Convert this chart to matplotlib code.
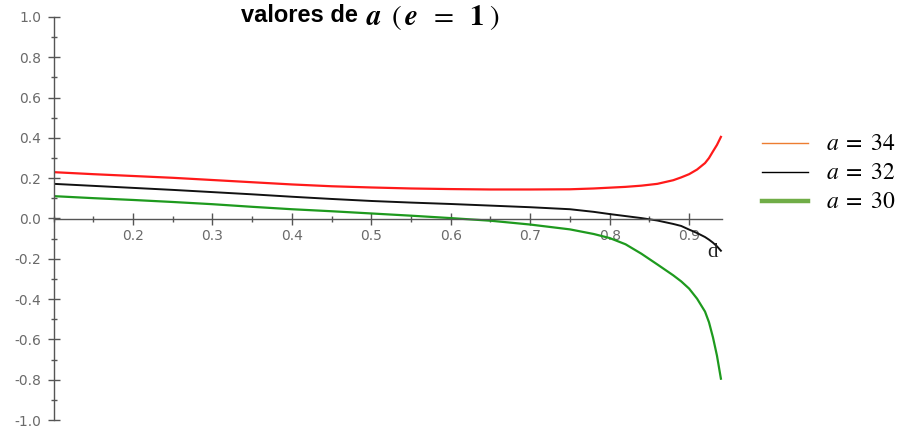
import numpy as np
import matplotlib
matplotlib.use("Agg")
import matplotlib.pyplot as plt
from matplotlib.lines import Line2D
from matplotlib.ticker import MultipleLocator, FormatStrFormatter

plt.rcParams['mathtext.fontset'] = 'stix'
plt.rcParams['axes.unicode_minus'] = False

# values of the expression vs d, for three values of a
d_vals = [0.10, 0.15, 0.20, 0.25, 0.30, 0.35, 0.40, 0.45, 0.50, 0.55, 0.60, 0.65, 0.70,
          0.75, 0.78, 0.80, 0.82, 0.84, 0.86, 0.88, 0.89, 0.90, 0.91, 0.92, 0.925, 0.93, 0.935, 0.94]
y_a34 = [0.230, 0.220, 0.211, 0.202, 0.191, 0.180, 0.169, 0.160, 0.154, 0.149, 0.146, 0.144, 0.144,
         0.145, 0.149, 0.153, 0.157, 0.163, 0.172, 0.190, 0.204, 0.220, 0.243, 0.275, 0.300, 0.333, 0.365, 0.405]
y_a32 = [0.172, 0.162, 0.152, 0.142, 0.131, 0.120, 0.108, 0.097, 0.087, 0.079, 0.072, 0.064, 0.056,
         0.046, 0.033, 0.022, 0.012, 0.002, -0.010, -0.027, -0.037, -0.055, -0.072, -0.092, -0.105, -0.120, -0.138, -0.160]
y_a30 = [0.111, 0.101, 0.092, 0.082, 0.071, 0.058, 0.046, 0.036, 0.025, 0.014, 0.002, -0.011, -0.030,
         -0.054, -0.077, -0.097, -0.128, -0.175, -0.228, -0.282, -0.312, -0.348, -0.398, -0.462, -0.515, -0.590, -0.680, -0.795]
legend_labels = [r"$a\;=\;34$", r"$a\;=\;32$", r"$a\;=\;30$"]

fig = plt.figure(figsize=(9.02, 4.30), dpi=100)
ax = fig.add_axes([53.5/902, 10/430, 669/902, 403/430])

ax.plot(d_vals, y_a34, color="#ff1a1a", lw=1.6)
ax.plot(d_vals, y_a32, color="#111111", lw=1.4)
ax.plot(d_vals, y_a30, color="#1e9a1e", lw=1.6)

ax.set_xlim(0.1, 0.942)
ax.set_ylim(-1.0, 1.0)
ax.spines['top'].set_visible(False)
ax.spines['right'].set_visible(False)
ax.spines['bottom'].set_position(('data', 0))
for s in ('left', 'bottom'):
    ax.spines[s].set_color("#555555")
    ax.spines[s].set_linewidth(1.0)

ax.xaxis.set_minor_locator(MultipleLocator(0.05))
ax.yaxis.set_major_locator(MultipleLocator(0.2))
ax.yaxis.set_minor_locator(MultipleLocator(0.1))
# no label at d = 0.1 (the vertical axis sits there)
ax.set_xticks([0.2, 0.3, 0.4, 0.5, 0.6, 0.7, 0.8, 0.9])
ax.xaxis.set_major_formatter(FormatStrFormatter("%.1f"))
ax.yaxis.set_major_formatter(FormatStrFormatter("%.1f"))
ax.tick_params(which='major', direction='inout', length=9, width=1.0, color="#555555",
               labelsize=10, labelcolor="#6a6a6a")
ax.tick_params(which='minor', direction='inout', length=4.5, width=1.0, color="#555555")
ax.tick_params(axis='x', which='major', pad=3)
ax.tick_params(axis='y', which='major', pad=4.5)
for lab in ax.get_xticklabels() + ax.get_yticklabels():
    lab.set_family("DejaVu Sans")

ax.text(0.9296, -0.169, "d", fontsize=15, family="Liberation Serif",
        ha='center', va='center', color="#222222")

# title: plain words + math part
fig.text(358/902, 0.965, "valores de", fontsize=17, fontweight='bold',
         family="Liberation Sans", ha='right', va='center')
fig.text(366/902, 0.960, r"$\mathbfit{a}\ \,(\,\mathbfit{e}\;\;=\;\;\mathbf{1}\;)$",
         fontsize=21, ha='left', va='center')

# legend drawn by hand
leg_colors = ["#ed7d31", "#000000", "#70ad47"]
leg_widths = [1.0, 1.0, 3.2]
leg_rows = [143, 172, 201]
for lab, c, w, r in zip(legend_labels, leg_colors, leg_widths, leg_rows):
    yf = 1 - r/430
    fig.add_artist(Line2D([762/902, 808/902], [yf, yf], color=c, lw=w,
                          transform=fig.transFigure))
    fig.text(826/902, yf, lab, fontsize=17, ha='left', va='center')

fig.savefig("out.png", dpi=100)
